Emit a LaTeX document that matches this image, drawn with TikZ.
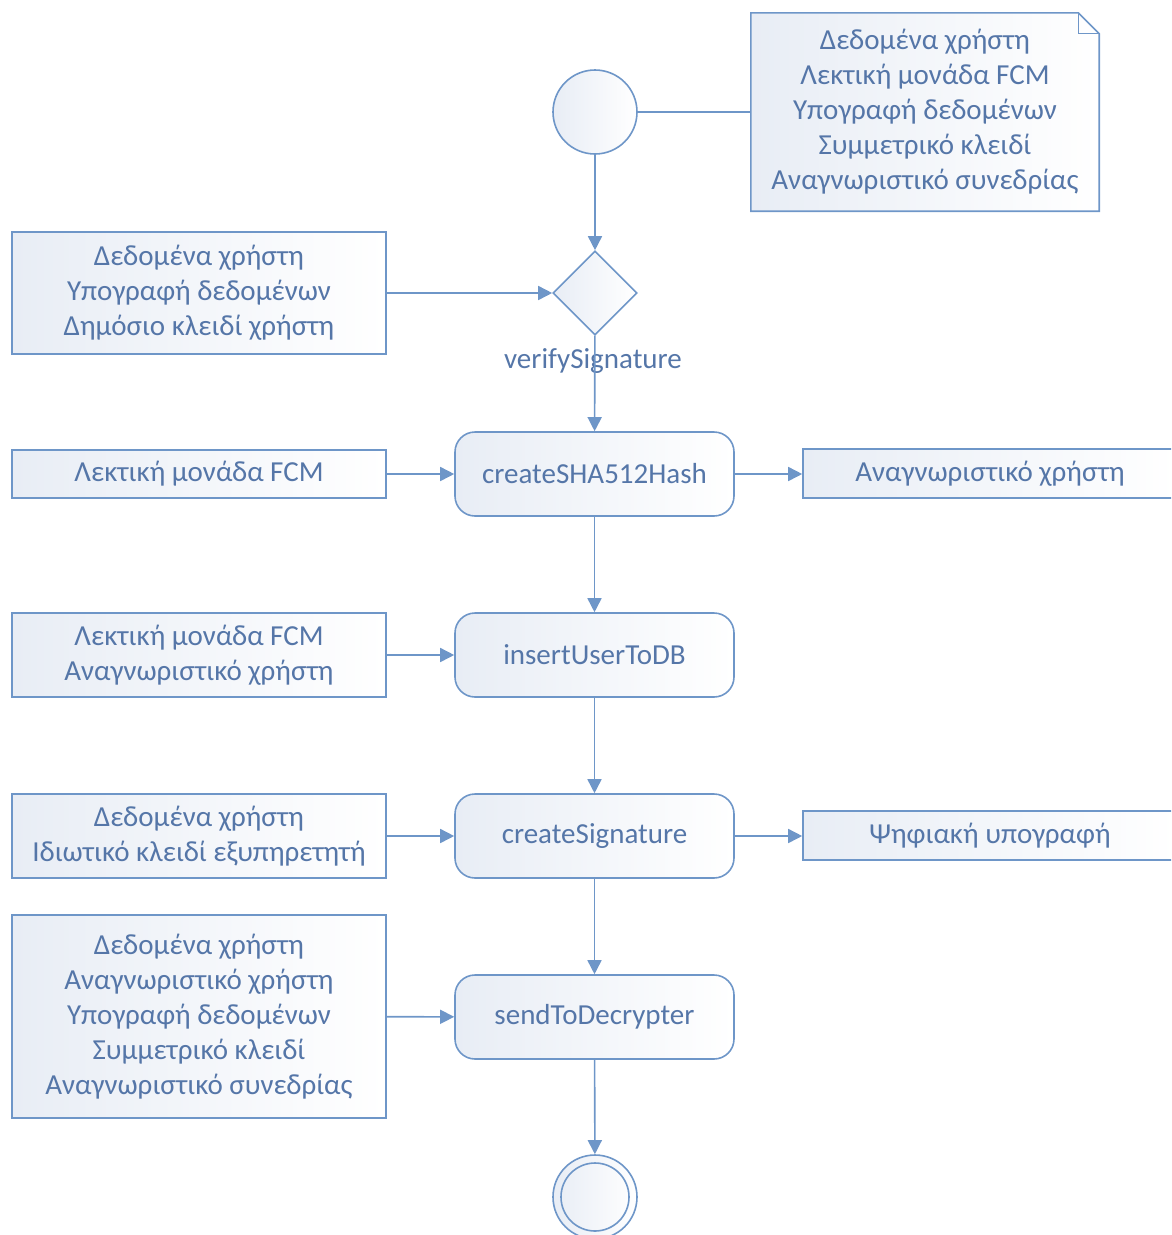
\documentclass[tikz,border=0pt]{standalone}
\usepackage{fontspec}
\setmainfont{Carlito}
\usetikzlibrary{shapes.geometric,arrows.meta}
\definecolor{edge}{HTML}{6E96C8}
\definecolor{ink}{HTML}{5576A8}
\definecolor{tint}{HTML}{E8EDF5}
\begin{document}
\begin{tikzpicture}[x=1pt,y=-1pt,
  txt/.style={text=ink, font=\fontsize{29}{35}\selectfont},
  box/.style={txt, draw=edge, line width=1.6pt, left color=tint, right color=white,
              align=center, inner sep=0pt},
  pin/.style={box, minimum width=374pt},
  act/.style={box, rounded corners=20pt, minimum width=279pt, minimum height=84pt},
  flow/.style={draw=edge, line width=1.6pt, -{Triangle[length=14pt,width=14pt]}},
  link/.style={draw=edge, line width=1.6pt}]
\clip (0,0) rectangle (1171,1235);

% start, decision and end
\node[box, circle, minimum size=84pt] (start) at (595,112) {};
\node[box, diamond, minimum width=84pt, minimum height=84pt] (check) at (595,293) {};
\node[txt] (checklbl) at (593,361) {verifySignature};
\node[box, circle, minimum size=84pt] (stop) at (595,1197) {};
\node[draw=edge, line width=1.6pt, circle, minimum size=68pt, inner sep=0pt] (stopin) at (595,1197) {};

% note with folded corner
\node[minimum width=348pt, minimum height=198pt, inner sep=0pt] (note) at (925,112) {};
\fill[left color=tint, right color=white]
  (note.south west) -- (note.north west) -- ([xshift=-21pt]note.north east)
  -- ([yshift=-21pt]note.north east) -- (note.south east) -- cycle;
\draw[link, line join=miter]
  (note.south west) -- (note.north west) -- ([xshift=-21pt]note.north east)
  -- ([yshift=-21pt]note.north east) -- (note.south east) -- cycle;
\draw[draw=edge, line width=1.2pt]
  ([xshift=-21pt]note.north east) -- ([xshift=-21pt,yshift=-21pt]note.north east)
  -- ([yshift=-21pt]note.north east);
\node[txt, align=center] (notetext) at (note.center)
  {Δεδομένα χρήστη\\Λεκτική μονάδα FCM\\Υπογραφή δεδομένων\\Συμμετρικό κλειδί\\Αναγνωριστικό συνεδρίας};

% activities
\node[act] (hash) at (594.5,474) {createSHA512Hash};
\node[act] (insert) at (594.5,655) {insertUserToDB};
\node[act] (sign) at (594.5,836) {createSignature};
\node[act] (send) at (594.5,1017) {sendToDecrypter};

% input pins
\node[pin, minimum height=122pt] (in1) at (199,293)
  {Δεδομένα χρήστη\\Υπογραφή δεδομένων\\Δημόσιο κλειδί χρήστη};
\node[pin, minimum height=48pt] (in2) at (199,474) {Λεκτική μονάδα FCM};
\node[pin, minimum height=84pt] (in3) at (199,655)
  {Λεκτική μονάδα FCM\\Αναγνωριστικό χρήστη};
\node[pin, minimum height=84pt] (in4) at (199,836)
  {Δεδομένα χρήστη\\Ιδιωτικό κλειδί εξυπηρετητή};
\node[pin, minimum height=203pt] (in5) at (199,1016.5)
  {Δεδομένα χρήστη\\Αναγνωριστικό χρήστη\\Υπογραφή δεδομένων\\Συμμετρικό κλειδί\\Αναγνωριστικό συνεδρίας};

% output pins
\node[pin, minimum height=49pt] (out1) at (990,473.5) {Αναγνωριστικό χρήστη};
\node[pin, minimum height=49pt] (out2) at (990,835.5) {Ψηφιακή υπογραφή};

% connectors
\draw[link] (start) -- (note);
\draw[flow] (start) -- (check);
\draw[flow] (in1) -- (check);
\draw[flow] (check) -- (hash);
\draw[flow] (in2) -- (hash);
\draw[flow] (hash) -- (out1.west |- hash);
\draw[flow] (hash) -- (insert);
\draw[flow] (in3) -- (insert);
\draw[flow] (insert) -- (sign);
\draw[flow] (in4) -- (sign);
\draw[flow] (sign) -- (out2.west |- sign);
\draw[flow] (sign) -- (send);
\draw[flow] (in5) -- (send);
\draw[flow] (send) -- (stop);
\end{tikzpicture}
\end{document}
